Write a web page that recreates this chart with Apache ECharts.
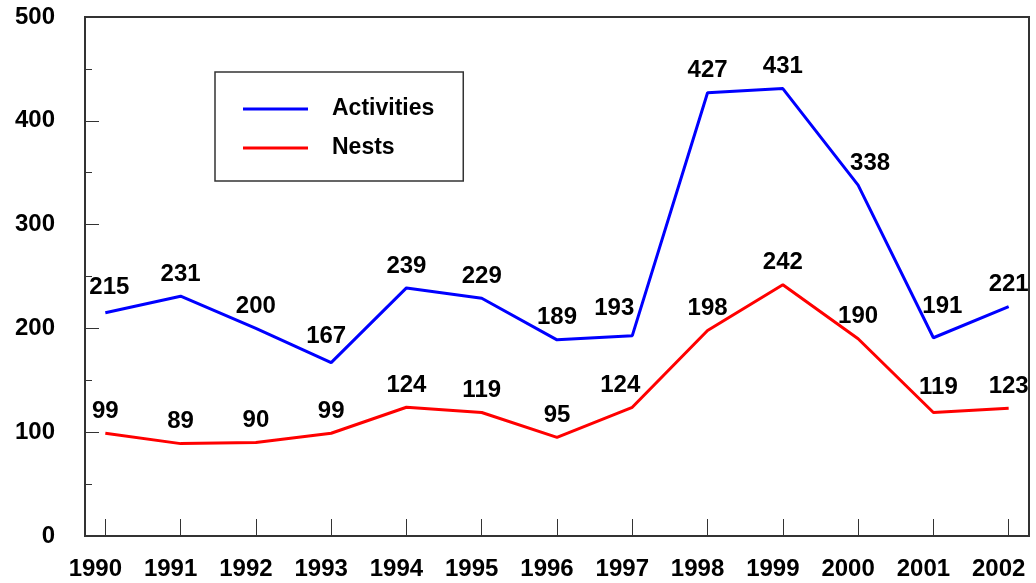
<!DOCTYPE html>
<html>
<head>
<meta charset="utf-8">
<script src="https://cdn.jsdelivr.net/npm/echarts@6/dist/echarts.min.js"></script>
<style>
  html, body { margin: 0; padding: 0; background: #fff; }
  #chart { width: 1036px; height: 583px; }
</style>
</head>
<body>
<div id="chart"></div>
<script>
// data
const years = [1990, 1991, 1992, 1993, 1994, 1995, 1996, 1997, 1998, 1999, 2000, 2001, 2002];
const activities = [215, 231, 200, 167, 239, 229, 189, 193, 427, 431, 338, 191, 221];
const nests = [99, 89, 90, 99, 124, 119, 95, 124, 198, 242, 190, 119, 123];
const yTicks = [0, 100, 200, 300, 400, 500];

// value labels that the original nudged off their default spot (px)
const labelNudge = {
    Activities: { 1990: [4, -3], 1993: [-5, -4], 1997: [-18, -5], 2000: [12, 0], 2001: [9, -9] },
    Nests: { 1997: [-12, 0], 2001: [5, -3] },
};

const FONT = '"Liberation Sans", Arial, sans-serif';
const AXIS_COLOR = '#333';

function points(name, vals) {
    const nudge = labelNudge[name] || {};
    return years.map((y, i) => {
        const item = { value: [y, vals[i]] };
        if (nudge[y]) item.label = { offset: nudge[y] };
        return item;
    });
}

function lineSeries(name, vals, color) {
    return {
        type: 'line',
        name: name,
        data: points(name, vals),
        symbol: 'circle',
        symbolSize: 0,
        showSymbol: true,
        lineStyle: { color: color, width: 3 },
        itemStyle: { color: color },
        label: {
            show: true,
            position: 'top',
            distance: 10,
            color: '#000',
            fontFamily: FONT,
            fontWeight: 'bold',
            fontSize: 24,
            formatter: p => String(p.value[1]),
        },
        emphasis: { disabled: true },
        z: 3,
    };
}

const chart = echarts.init(document.getElementById('chart'), null, { renderer: 'canvas' });

chart.setOption({
    animation: false,
    backgroundColor: '#fff',
    grid: {
        left: 85, right: 7, top: 17, bottom: 47,
        show: true,
        borderColor: AXIS_COLOR,
        borderWidth: 2,
        backgroundColor: 'transparent',
    },
    legend: {
        data: ['Activities', 'Nests'],
        orient: 'vertical',
        left: 215,
        top: 72,
        padding: [24, 29, 20, 28],
        itemGap: 13,
        itemWidth: 65,
        itemHeight: 3,
        icon: 'rect',
        borderColor: AXIS_COLOR,
        borderWidth: 1.5,
        backgroundColor: '#fff',
        textStyle: {
            color: '#000',
            fontFamily: FONT,
            fontWeight: 'bold',
            fontSize: 23,
            lineHeight: 26,
            padding: [0, 0, 0, 19],
        },
        selectedMode: false,
    },
    xAxis: {
        type: 'value',
        min: 1989.73,
        max: 2002.27,
        splitLine: { show: false },
        axisLine: { show: true, lineStyle: { color: AXIS_COLOR, width: 2 } },
        axisTick: {
            show: true,
            inside: true,
            length: 17,
            customValues: years,
            lineStyle: { color: AXIS_COLOR, width: 1 },
        },
        axisLabel: {
            customValues: years,
            formatter: v => String(Math.round(v)),
            color: '#000',
            fontFamily: FONT,
            fontWeight: 'bold',
            fontSize: 24,
            margin: 21,
            padding: [0, 20, 0, 0],
        },
    },
    yAxis: {
        type: 'value',
        min: 0,
        max: 500,
        interval: 100,
        splitLine: { show: false },
        axisLine: { show: true, lineStyle: { color: AXIS_COLOR, width: 2 } },
        axisTick: { show: true, inside: true, length: 14, lineStyle: { color: AXIS_COLOR, width: 1 } },
        minorTick: { show: true, splitNumber: 2, length: 7, lineStyle: { color: AXIS_COLOR, width: 1 } },
        axisLabel: {
            customValues: yTicks,
            color: '#000',
            fontFamily: FONT,
            fontWeight: 'bold',
            fontSize: 24,
            margin: 30,
        },
    },
    series: [
        lineSeries('Activities', activities, '#0000ff'),
        lineSeries('Nests', nests, '#ff0000'),
    ],
});
</script>
</body>
</html>
